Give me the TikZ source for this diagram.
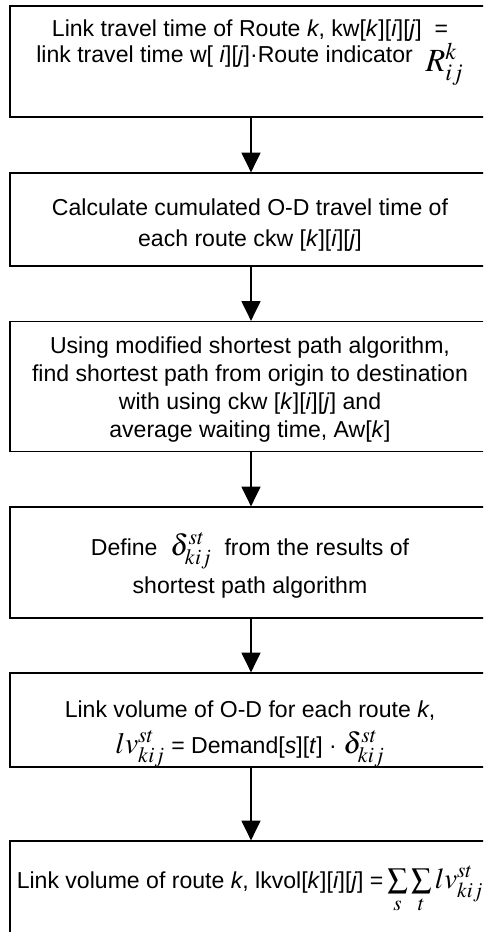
\documentclass[tikz,border=0pt]{standalone}
\usepackage{mathptmx}
\usepackage[no-math]{fontspec}
\setmainfont{Liberation Sans}
\usepackage{tikz}
\usetikzlibrary{arrows.meta}

\tikzset{
	box/.style={draw, line width=0.9pt, minimum width=12.05cm, inner sep=0pt},
	txt/.style={anchor=base, align=center, inner sep=0pt, font={\fontsize{16.4}{17.4}\selectfont\lineskiplimit-100pt}},
	arr/.style={line width=0.9pt, -{Triangle[width=13.5pt, length=14pt]}}
}

\begin{document}
\begin{tikzpicture}[x=0.025cm, y=-0.025cm]
			\useasboundingbox (0, 0) rectangle (483, 932);
			\clip (0, 0) rectangle (483, 932);
			
			\node[box, minimum height=2.775cm] (b1) at (251, 61.5) {};
			\node[box, minimum height=2.325cm] (b2) at (251, 219.5) {};
			\node[box, minimum height=3.25cm] (b3) at (251, 386.5) {};
			\node[box, minimum height=2.775cm] (b4) at (251, 562.5) {};
			\node[box, minimum height=2.35cm] (b5) at (251, 720) {};
			\node[box, minimum height=2.975cm] (b6) at (251, 900.5) {};
			
			\node[txt] (t1) at (250, 63) {Link travel time of Route \textit{k}, kw[\textit{k}][\textit{i}][\textit{j}]\ \ =\\[1.3pt] link travel time w[ \textit{i}][\textit{j}]·Route indicator \ \raisebox{-6pt}{\fontsize{23}{23}\selectfont$R_{ij}^{k}$}};
			\node[txt] (t2) at (250, 246.7) {Calculate cumulated O-D travel time of\\[5.1pt] each route ckw [\textit{k}][\textit{i}][\textit{j}]};
			\node[txt] (t3) at (250, 437) {Using modified shortest path algorithm,\\[2.3pt] find shortest path from origin to destination\\[2.3pt] with using ckw [\textit{k}][\textit{i}][\textit{j}] and\\[2.3pt] average waiting time, Aw[\textit{k}]};
			\node[txt] (t4) at (250, 593) {Define \ {\fontsize{21}{21}\selectfont$\delta_{kij}^{st}$}\ \ from the results of\\[9.6pt] shortest path algorithm};
			\node[txt] (t5) at (250, 753) {Link volume of O-D for each route \textit{k},\\[8.2pt] {\fontsize{21}{21}\selectfont$lv_{kij}^{st}$} = Demand[\textit{s}][\textit{t}] · {\fontsize{21}{21}\selectfont$\delta_{kij}^{st}$}};
			\node[txt] (t6) at (250, 888) {Link volume of route \textit{k}, lkvol[\textit{k}][\textit{i}][\textit{j}] =\,{\fontsize{20.5}{20.5}\selectfont$\sum\limits_{s}\sum\limits_{t}lv_{kij}^{st}$}};
			
			\draw[arr] (b1) -- (b2);
			\draw[arr] (b2) -- (b3);
			\draw[arr] (b3) -- (b4);
			\draw[arr] (b4) -- (b5);
			\draw[arr] (b5) -- (b6);
\end{tikzpicture}
\end{document}
